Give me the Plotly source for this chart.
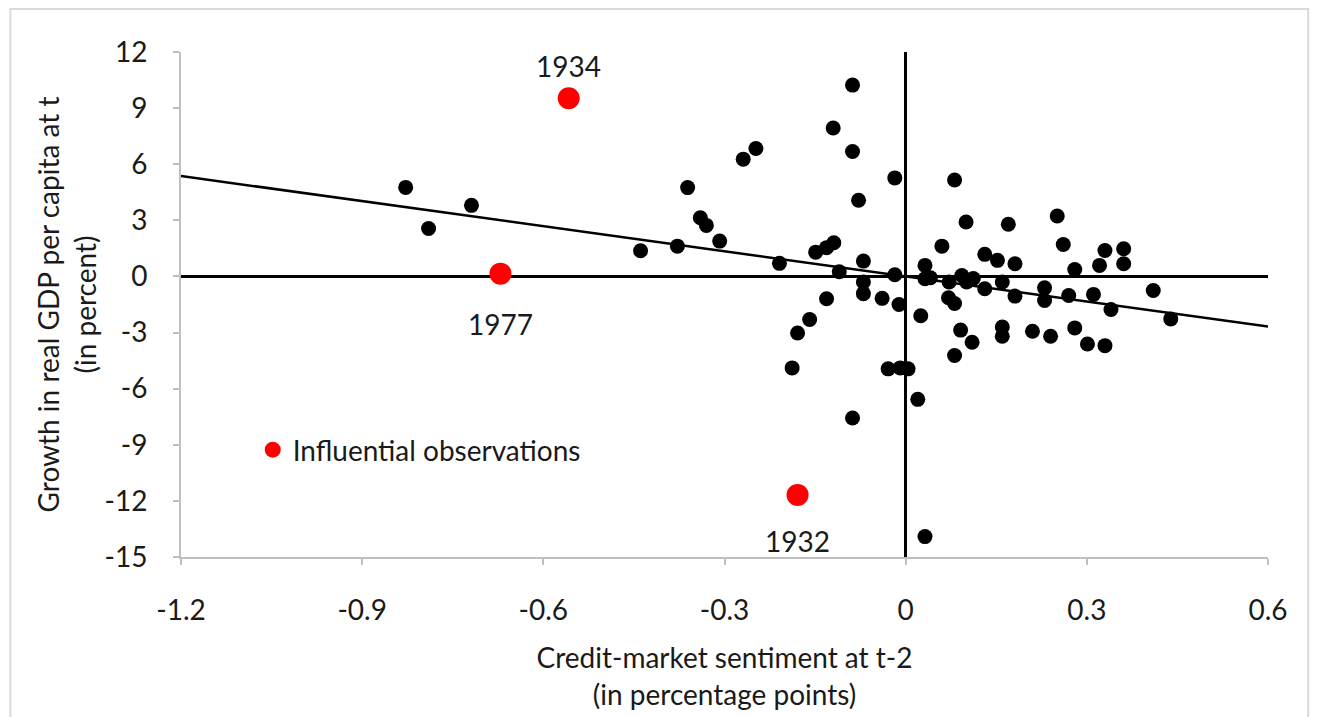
import plotly.graph_objects as go

# observations (credit-market sentiment at t-2, real GDP per capita growth at t)
obs_x = [-0.828, -0.790, -0.719, -0.439, -0.378, -0.361, -0.340, -0.330, -0.308, -0.269,
         -0.248, -0.209, -0.188, -0.179, -0.159, -0.149, -0.131, -0.119, -0.131, -0.120,
         -0.110, -0.088, -0.088, -0.088, -0.078, -0.070, -0.070, -0.070, -0.039, -0.029,
         -0.018, -0.018, -0.011, -0.009, 0.004, 0.020, 0.025, 0.032, 0.032, 0.032,
         0.041, 0.060, 0.071, 0.072, 0.081, 0.081, 0.081, 0.091, 0.093, 0.100,
         0.101, 0.110, 0.112, 0.131, 0.131, 0.152, 0.160, 0.160, 0.160, 0.170,
         0.181, 0.181, 0.210, 0.230, 0.230, 0.240, 0.251, 0.261, 0.270, 0.280,
         0.280, 0.301, 0.311, 0.321, 0.330, 0.330, 0.340, 0.361, 0.361, 0.410,
         0.439]
obs_y = [4.76, 2.56, 3.80, 1.37, 1.62, 4.75, 3.14, 2.73, 1.89, 6.27,
         6.84, 0.70, -4.89, -3.02, -2.30, 1.30, 1.54, 1.80, -1.19, 7.94,
         0.25, 10.23, 6.68, -7.57, 4.07, 0.82, -0.30, -0.92, -1.17, -4.94,
         5.27, 0.09, -1.50, -4.89, -4.94, -6.57, -2.10, 0.59, -0.12, -13.91,
         -0.07, 1.62, -1.14, -0.30, 5.16, -1.45, -4.23, -2.87, 0.05, 2.91,
         -0.30, -3.52, -0.11, 1.18, -0.66, 0.86, -0.30, -2.70, -3.20, 2.79,
         0.68, -1.05, -2.93, -0.61, -1.29, -3.20, 3.23, 1.71, -1.02, 0.37,
         -2.75, -3.61, -0.96, 0.59, 1.39, -3.70, -1.77, 1.48, 0.68, -0.75,
         -2.27]

infl_years = ["1934", "1977", "1932"]
infl_x = [-0.558, -0.671, -0.179]
infl_y = [9.53, 0.15, -11.68]
label_shift = [32, -50, -46]

trend_x = [-1.2, 0.6]
trend_y = [5.37, -2.68]

x_ticks = [-1.2, -0.9, -0.6, -0.3, 0, 0.3, 0.6]
x_tick_text = ["-1.2", "-0.9", "-0.6", "-0.3", "0", "0.3", "0.6"]
y_ticks = [12, 9, 6, 3, 0, -3, -6, -9, -12, -15]
y_tick_text = ["12", "9", "6", "3", "0", "-3", "-6", "-9", "-12", "-15"]

FONT = "Lato, 'Open Sans', sans-serif"
TXT = "#1a1a1a"

fig = go.Figure()
fig.add_trace(go.Scatter(
    x=trend_x, y=trend_y, mode="lines",
    line=dict(color="black", width=2.5), showlegend=False, hoverinfo="skip",
))
fig.add_trace(go.Scatter(
    x=obs_x, y=obs_y, mode="markers",
    marker=dict(color="black", size=15), showlegend=False,
))
fig.add_trace(go.Scatter(
    x=infl_x, y=infl_y, mode="markers", name="Influential observations",
    marker=dict(color="#ff0000", size=22),
))

for yr, xv, yv, sh in zip(infl_years, infl_x, infl_y, label_shift):
    fig.add_annotation(x=xv, y=yv, text=yr, showarrow=False, yshift=sh,
                       font=dict(size=28, color=TXT))

# light frame around the whole chart
fig.add_shape(type="rect", xref="paper", yref="paper",
              x0=-0.157, x1=1.037, y0=-0.33, y1=1.085,
              line=dict(color="#d9d9d9", width=2), layer="below")

axis_common = dict(
    showgrid=False, showline=True, linecolor="#bfbfbf", linewidth=2,
    ticks="outside", ticklen=6, tickwidth=2, tickcolor="#bfbfbf",
    zeroline=True, zerolinecolor="black", zerolinewidth=2.5,
    tickfont=dict(size=28, color=TXT),
)

fig.update_xaxes(
    range=[-1.2, 0.6], tickvals=x_ticks, ticktext=x_tick_text,
    title=dict(text="Credit-market sentiment at t-2<br>(in percentage points)",
               font=dict(size=28, color=TXT), standoff=24),
    ticklabelstandoff=21, **axis_common,
)
fig.update_yaxes(
    range=[-15, 12], tickvals=y_ticks, ticktext=y_tick_text,
    title=dict(text="Growth in real GDP per capita at t<br>(in percent)",
               font=dict(size=28, color=TXT), standoff=0),
    ticklabelstandoff=20, **axis_common,
)

fig.update_layout(
    width=1320, height=717,
    margin=dict(l=173, r=60, t=44, b=168),
    plot_bgcolor="white", paper_bgcolor="white",
    font=dict(family=FONT, color=TXT),
    legend=dict(x=0.066, y=0.212, xanchor="left", yanchor="middle",
                font=dict(size=28), bgcolor="rgba(0,0,0,0)", itemsizing="trace"),
)

fig.write_html("out.html")
